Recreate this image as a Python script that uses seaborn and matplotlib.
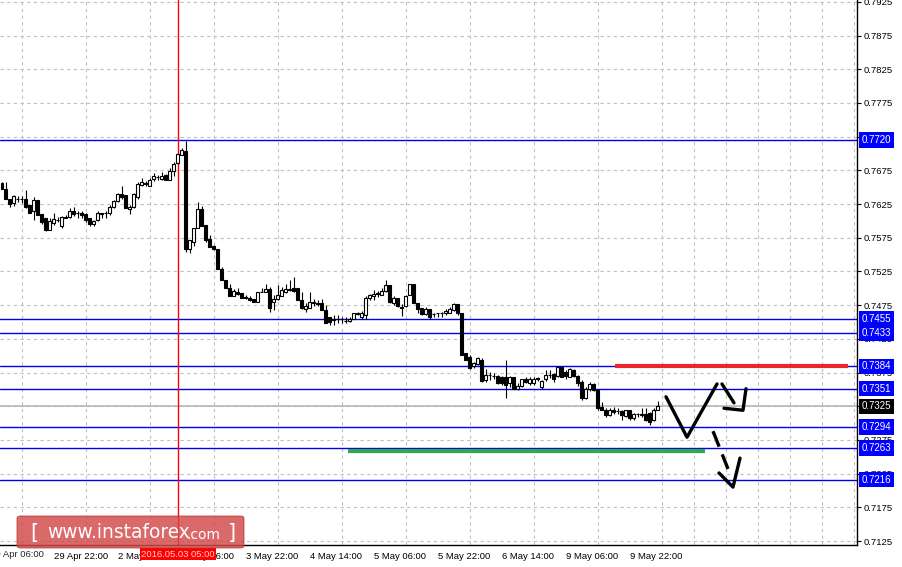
import matplotlib
matplotlib.use("Agg")
import matplotlib.pyplot as plt
import matplotlib.transforms as mtransforms
from matplotlib.patches import FancyBboxPatch
import numpy as np
import pandas as pd
import seaborn as sns

# H1 candles
opens = [0.7656, 0.7648, 0.7633, 0.7627, 0.7633, 0.7633, 0.7633, 0.7623, 0.7614, 0.7631,
         0.7610, 0.7604, 0.7587, 0.7597, 0.7601, 0.7592, 0.7605, 0.7606, 0.7614, 0.7611,
         0.7611, 0.7610, 0.7604, 0.7595, 0.7601, 0.7610, 0.7611, 0.7611, 0.7621, 0.7630,
         0.7640, 0.7638, 0.7618, 0.7621, 0.7636, 0.7653, 0.7655, 0.7652, 0.7662, 0.7665,
         0.7662, 0.7668, 0.7660, 0.7674, 0.7686, 0.7697, 0.7703, 0.7559, 0.7569, 0.7589,
         0.7617, 0.7594, 0.7573, 0.7562, 0.7558, 0.7528, 0.7512, 0.7501, 0.7489, 0.7495,
         0.7493, 0.7487, 0.7486, 0.7484, 0.7480, 0.7494, 0.7495, 0.7499, 0.7480, 0.7484,
         0.7489, 0.7495, 0.7498, 0.7500, 0.7500, 0.7483, 0.7469, 0.7471, 0.7478, 0.7478,
         0.7478, 0.7468, 0.7458, 0.7453, 0.7454, 0.7454, 0.7452, 0.7452, 0.7455, 0.7462,
         0.7458, 0.7460, 0.7485, 0.7488, 0.7492, 0.7490, 0.7496, 0.7505, 0.7478, 0.7485,
         0.7472, 0.7473, 0.7490, 0.7507, 0.7478, 0.7470, 0.7462, 0.7469, 0.7462, 0.7463,
         0.7464, 0.7463, 0.7464, 0.7468, 0.7476, 0.7463, 0.7404, 0.7398, 0.7384, 0.7388,
         0.7394, 0.7364, 0.7371, 0.7370, 0.7370, 0.7369, 0.7368, 0.7359, 0.7368, 0.7350,
         0.7355, 0.7366, 0.7359, 0.7359, 0.7366, 0.7354, 0.7365, 0.7371, 0.7373, 0.7370,
         0.7383, 0.7376, 0.7369, 0.7379, 0.7370, 0.7361, 0.7337, 0.7350, 0.7358, 0.7349,
         0.7324, 0.7320, 0.7312, 0.7320, 0.7318, 0.7318, 0.7310, 0.7319, 0.7307, 0.7314,
         0.7312, 0.7314, 0.7315, 0.7304, 0.7319]
highs = [0.7657, 0.7657, 0.7633, 0.7638, 0.7637, 0.7637, 0.7646, 0.7623, 0.7635, 0.7631,
         0.7610, 0.7604, 0.7604, 0.7611, 0.7606, 0.7607, 0.7609, 0.7619, 0.7620, 0.7615,
         0.7615, 0.7611, 0.7604, 0.7602, 0.7614, 0.7612, 0.7615, 0.7623, 0.7631, 0.7642,
         0.7651, 0.7638, 0.7623, 0.7642, 0.7657, 0.7664, 0.7659, 0.7664, 0.7671, 0.7668,
         0.7672, 0.7669, 0.7679, 0.7687, 0.7700, 0.7708, 0.7718, 0.7571, 0.7590, 0.7628,
         0.7622, 0.7594, 0.7579, 0.7564, 0.7559, 0.7532, 0.7512, 0.7507, 0.7499, 0.7500,
         0.7493, 0.7490, 0.7489, 0.7484, 0.7495, 0.7501, 0.7507, 0.7502, 0.7490, 0.7505,
         0.7502, 0.7507, 0.7512, 0.7517, 0.7500, 0.7495, 0.7478, 0.7495, 0.7484, 0.7483,
         0.7484, 0.7475, 0.7458, 0.7460, 0.7460, 0.7458, 0.7458, 0.7457, 0.7464, 0.7465,
         0.7467, 0.7488, 0.7492, 0.7497, 0.7496, 0.7500, 0.7512, 0.7505, 0.7488, 0.7485,
         0.7477, 0.7490, 0.7507, 0.7507, 0.7478, 0.7470, 0.7472, 0.7469, 0.7464, 0.7464,
         0.7465, 0.7469, 0.7472, 0.7478, 0.7476, 0.7464, 0.7404, 0.7401, 0.7391, 0.7398,
         0.7396, 0.7380, 0.7376, 0.7375, 0.7371, 0.7370, 0.7393, 0.7370, 0.7369, 0.7359,
         0.7366, 0.7368, 0.7368, 0.7368, 0.7369, 0.7364, 0.7379, 0.7379, 0.7375, 0.7385,
         0.7385, 0.7379, 0.7381, 0.7380, 0.7371, 0.7364, 0.7354, 0.7361, 0.7359, 0.7350,
         0.7332, 0.7322, 0.7323, 0.7324, 0.7322, 0.7320, 0.7320, 0.7319, 0.7315, 0.7315,
         0.7322, 0.7322, 0.7317, 0.7322, 0.7333]
lows = [0.7647, 0.7632, 0.7621, 0.7622, 0.7628, 0.7626, 0.7619, 0.7612, 0.7602, 0.7609,
        0.7596, 0.7585, 0.7586, 0.7594, 0.7599, 0.7590, 0.7604, 0.7604, 0.7607, 0.7605,
        0.7605, 0.7599, 0.7592, 0.7592, 0.7600, 0.7604, 0.7605, 0.7609, 0.7619, 0.7628,
        0.7633, 0.7619, 0.7610, 0.7619, 0.7633, 0.7651, 0.7652, 0.7651, 0.7659, 0.7661,
        0.7660, 0.7661, 0.7660, 0.7667, 0.7685, 0.7697, 0.7554, 0.7553, 0.7563, 0.7589,
        0.7593, 0.7568, 0.7561, 0.7557, 0.7529, 0.7512, 0.7501, 0.7489, 0.7488, 0.7490,
        0.7485, 0.7484, 0.7481, 0.7480, 0.7480, 0.7494, 0.7495, 0.7465, 0.7468, 0.7483,
        0.7488, 0.7493, 0.7496, 0.7495, 0.7482, 0.7469, 0.7465, 0.7470, 0.7473, 0.7473,
        0.7468, 0.7449, 0.7446, 0.7445, 0.7448, 0.7449, 0.7448, 0.7450, 0.7454, 0.7460,
        0.7455, 0.7455, 0.7483, 0.7483, 0.7487, 0.7490, 0.7495, 0.7478, 0.7475, 0.7472,
        0.7459, 0.7472, 0.7490, 0.7478, 0.7464, 0.7460, 0.7460, 0.7455, 0.7458, 0.7457,
        0.7458, 0.7460, 0.7463, 0.7467, 0.7461, 0.7401, 0.7393, 0.7380, 0.7381, 0.7386,
        0.7361, 0.7361, 0.7364, 0.7366, 0.7358, 0.7356, 0.7337, 0.7354, 0.7350, 0.7349,
        0.7354, 0.7359, 0.7356, 0.7356, 0.7363, 0.7351, 0.7363, 0.7367, 0.7361, 0.7369,
        0.7368, 0.7366, 0.7368, 0.7369, 0.7355, 0.7334, 0.7335, 0.7348, 0.7347, 0.7320,
        0.7319, 0.7309, 0.7310, 0.7314, 0.7314, 0.7305, 0.7309, 0.7305, 0.7305, 0.7309,
        0.7309, 0.7303, 0.7297, 0.7303, 0.7319]
closes = [0.7647, 0.7632, 0.7625, 0.7637, 0.7633, 0.7633, 0.7620, 0.7612, 0.7631, 0.7609,
          0.7599, 0.7587, 0.7600, 0.7603, 0.7601, 0.7606, 0.7606, 0.7615, 0.7610, 0.7611,
          0.7609, 0.7601, 0.7595, 0.7600, 0.7611, 0.7611, 0.7612, 0.7621, 0.7629, 0.7640,
          0.7636, 0.7619, 0.7621, 0.7640, 0.7654, 0.7658, 0.7656, 0.7661, 0.7666, 0.7665,
          0.7667, 0.7661, 0.7674, 0.7685, 0.7699, 0.7705, 0.7559, 0.7571, 0.7590, 0.7618,
          0.7593, 0.7572, 0.7561, 0.7559, 0.7529, 0.7512, 0.7501, 0.7489, 0.7496, 0.7491,
          0.7485, 0.7485, 0.7482, 0.7480, 0.7495, 0.7495, 0.7499, 0.7470, 0.7484, 0.7490,
          0.7497, 0.7499, 0.7499, 0.7496, 0.7483, 0.7470, 0.7473, 0.7480, 0.7480, 0.7477,
          0.7468, 0.7449, 0.7450, 0.7454, 0.7454, 0.7454, 0.7451, 0.7454, 0.7463, 0.7463,
          0.7464, 0.7485, 0.7490, 0.7492, 0.7493, 0.7496, 0.7505, 0.7480, 0.7485, 0.7474,
          0.7471, 0.7488, 0.7507, 0.7478, 0.7469, 0.7462, 0.7469, 0.7458, 0.7462, 0.7464,
          0.7464, 0.7467, 0.7469, 0.7476, 0.7463, 0.7401, 0.7393, 0.7381, 0.7389, 0.7396,
          0.7363, 0.7371, 0.7372, 0.7370, 0.7359, 0.7359, 0.7356, 0.7368, 0.7351, 0.7355,
          0.7365, 0.7361, 0.7365, 0.7366, 0.7367, 0.7363, 0.7371, 0.7372, 0.7366, 0.7383,
          0.7369, 0.7370, 0.7380, 0.7370, 0.7359, 0.7337, 0.7351, 0.7358, 0.7349, 0.7322,
          0.7320, 0.7312, 0.7320, 0.7317, 0.7318, 0.7312, 0.7319, 0.7307, 0.7313, 0.7314,
          0.7314, 0.7304, 0.7302, 0.7319, 0.7325]

# time axis labels (bar index of each label)
tickBars = [13, 29, 45, 61, 77, 93, 109, 125, 141, 157]
tickLabels = ["29 Apr 22:00", "2 May 14:00", "3 May 06:00", "3 May 22:00", "4 May 14:00",
              "5 May 06:00", "5 May 22:00", "6 May 14:00", "9 May 06:00", "9 May 22:00"]
firstLabelBar = -3
firstLabel = "29 Apr 06:00"

# horizontal levels
levelPrices = [0.7720, 0.7455, 0.7433, 0.7384, 0.7351, 0.7294, 0.7263, 0.7216]
currentPrice = 0.7325
priceTicks = [0.7125, 0.7175, 0.7225, 0.7275, 0.7325, 0.7375, 0.7425, 0.7475, 0.7525,
              0.7575, 0.7625, 0.7675, 0.7725, 0.7775, 0.7825, 0.7875, 0.7925]

# vertical marker
markerBar = 44
markerLabel = "2016.05.03 05:00"

# drawn resistance / support segments
resistanceBars = [153.25, 211.5]
resistancePrices = [0.7384, 0.7384]
supportBars = [86.5, 175.75]
supportPrices = [0.7259, 0.7259]

# hand drawn forecast strokes
zigBars = [166.0, 171.25, 178.75]
zigPrices = [0.7339, 0.7279, 0.7358]
fallBars = [180.0, 183.0]
fallPrices = [0.7358, 0.7330]
hookBars = [180.5, 185.25, 186.0]
hookPrices = [0.7322, 0.7319, 0.7351]
dashBars = [177.75, 181.5]
dashPrices = [0.7288, 0.7232]
headBars = [179.25, 182.75, 184.5]
headPrices = [0.7226, 0.7205, 0.7248]

sns.set_style("white")
plt.rcParams['font.family'] = ['Liberation Sans', 'DejaVu Sans']

W, H = 903, 567
fig = plt.figure(figsize=(W / 100, H / 100), dpi=100)
fig.patch.set_facecolor("white")
ax = fig.add_axes([0, 22 / H, 857 / W, 545 / H])

df = pd.DataFrame({"open": opens, "high": highs, "low": lows, "close": closes})
df["bar"] = np.arange(len(df))
df["bull"] = df["close"] >= df["open"]
df["bottom"] = df[["open", "close"]].min(axis=1)
df["body"] = (df["close"] - df["open"]).abs()

gridColor = "#c0c0c0"
ax.set_xticks(np.arange(5, 214, 8), minor=True)
ax.set_yticks(priceTicks)
ax.grid(which="minor", axis="x", color=gridColor, linestyle=(0, (3, 3)), linewidth=0.8)
ax.grid(which="major", axis="y", color=gridColor, linestyle=(0, (3, 3)), linewidth=0.8)
ax.grid(which="major", axis="x", visible=False)
ax.set_axisbelow(True)

# levels
for p in levelPrices:
    ax.axhline(p, color="#0000ee", linewidth=1.0, zorder=1.5)
ax.axhline(currentPrice, color="#b8b8b8", linewidth=1.2, zorder=1.4)
ax.axvline(markerBar, color="#ff0000", linewidth=1.0, zorder=1.6)

# candles
ax.vlines(df["bar"], df["low"], df["high"], color="black", linewidth=0.8, zorder=2)
ax.bar(df["bar"], df["body"], bottom=df["bottom"], width=0.75,
       color=np.where(df["bull"], "white", "black"), edgecolor="black", linewidth=0.8, zorder=3)

# drawings
ax.plot(resistanceBars, resistancePrices, color="#e8262b", linewidth=3.0, solid_capstyle="butt", zorder=4)
ax.plot(supportBars, supportPrices, color="#2fa84f", linewidth=3.0, solid_capstyle="butt", zorder=4)
for bx, py in [(zigBars, zigPrices), (fallBars, fallPrices), (hookBars, hookPrices), (headBars, headPrices)]:
    sns.lineplot(x=bx, y=py, sort=False, estimator=None, color="black", linewidth=2.4, ax=ax, zorder=5)
sns.lineplot(x=dashBars, y=dashPrices, sort=False, estimator=None, color="black", linewidth=2.4,
             linestyle=(0, (5, 2.5)), ax=ax, zorder=5)

ax.set_xlim(-0.5, 213.75)
ax.set_ylim(0.71191, 0.79277)

# axes look
for s in ["left", "top"]:
    ax.spines[s].set_visible(False)
for s in ["right", "bottom"]:
    ax.spines[s].set_color("black")
    ax.spines[s].set_linewidth(1.0)
ax.yaxis.tick_right()
ax.set_yticks(priceTicks)
ax.set_yticklabels([f"{p:.4f}" for p in priceTicks])
ax.tick_params(axis="y", which="major", direction="out", length=3, width=0.8, pad=1.5,
               labelsize=6.8, colors="black", right=True, left=False)
ax.set_xticks(tickBars)
ax.set_xticklabels(tickLabels, ha="left")
ax.tick_params(axis="x", which="major", direction="out", length=3, width=0.8, pad=2,
               labelsize=6.8, colors="black")
ax.tick_params(axis="x", which="minor", length=0)
ax.set_xlabel("")
ax.set_ylabel("")
ax.text(firstLabelBar, -0.009, firstLabel, transform=mtransforms.blended_transform_factory(ax.transData, ax.transAxes),
        ha="left", va="top", fontsize=6.8, clip_on=False)

# price boxes on the right scale
trans = mtransforms.blended_transform_factory(ax.transAxes, ax.transData)
for p in levelPrices:
    ax.text(1.0 + 5 / 857, p, f"{p:.4f}", transform=trans, ha="left", va="center", color="white",
            fontsize=7, clip_on=False, zorder=10,
            bbox=dict(boxstyle="square,pad=0.28", fc="#0000ff", ec="none"))
ax.text(1.0 + 5 / 857, currentPrice, f"{currentPrice:.4f}", transform=trans, ha="left", va="center",
        color="white", fontsize=7, clip_on=False, zorder=10,
        bbox=dict(boxstyle="square,pad=0.28", fc="black", ec="none"))

# marker date box on the time scale
transX = mtransforms.blended_transform_factory(ax.transData, ax.transAxes)
ax.text(markerBar, -0.009, markerLabel, transform=transX, ha="center", va="top", color="#ffd0d0",
        fontsize=6.8, clip_on=False, zorder=10,
        bbox=dict(boxstyle="square,pad=0.15", fc="#ff0000", ec="none"))

# watermark
wm = FancyBboxPatch((17 / W, 1 - 548 / H), 227 / W, 32 / H, boxstyle="round,pad=0,rounding_size=0.004",
                    transform=fig.transFigure, facecolor="#d24848", edgecolor="#b03030",
                    linewidth=0.6, alpha=0.82, zorder=20)
fig.add_artist(wm)
fig.text(30 / W, 1 - 533 / H, "[", color="white", fontsize=15, va="center", ha="left", zorder=21,
         family="DejaVu Sans")
fig.text(47 / W, 1 - 533 / H, "www.instaforex", color="white", fontsize=13.4, va="center", ha="left",
         zorder=21, family="DejaVu Sans")
fig.text(187 / W, 1 - 535 / H, ".com", color="white", fontsize=10, va="center", ha="left", zorder=21,
         family="DejaVu Sans")
fig.text(228 / W, 1 - 533 / H, "]", color="white", fontsize=15, va="center", ha="left", zorder=21,
         family="DejaVu Sans")

fig.savefig("out.png", dpi=100, facecolor="white")
